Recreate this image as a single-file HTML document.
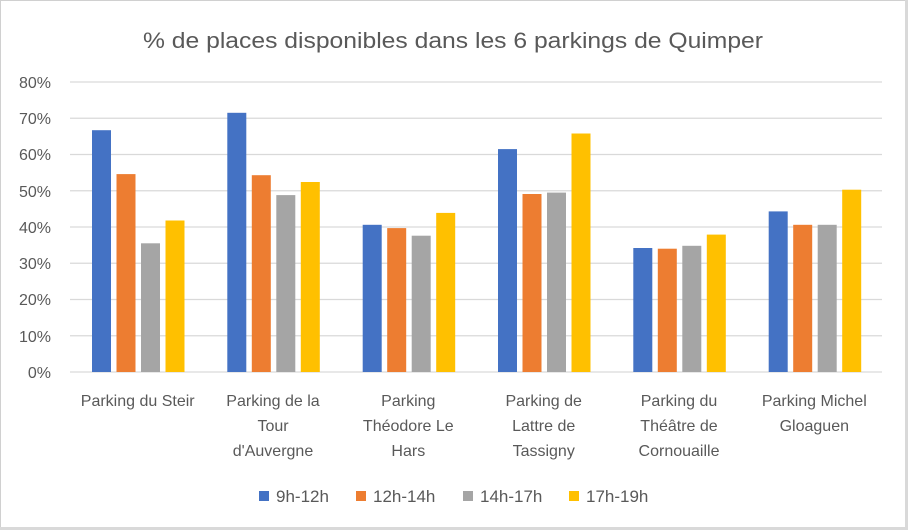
<!DOCTYPE html>
<html><head><meta charset="utf-8"><style>
html,body{margin:0;padding:0;background:#fff}
svg{display:block}
text{font-family:"Liberation Sans",sans-serif;fill:#595959}
</style></head><body>
<svg width="908" height="530" viewBox="0 0 908 530" xmlns="http://www.w3.org/2000/svg">
<rect x="0.5" y="0.5" width="906" height="527" fill="#fff" stroke="#d0d0d0" stroke-width="1"/>
<rect x="0" y="527" width="908" height="3" fill="#d9d9d9"/>
<rect x="905" y="0" width="3" height="530" fill="#d9d9d9"/>
<text x="453" y="48" font-size="22" text-anchor="middle" textLength="620" lengthAdjust="spacingAndGlyphs">% de places disponibles dans les 6 parkings de Quimper</text>
<g stroke="#d9d9d9" stroke-width="1.3">
<line x1="70" x2="882" y1="82" y2="82"/><line x1="70" x2="882" y1="118.25" y2="118.25"/>
<line x1="70" x2="882" y1="154.5" y2="154.5"/><line x1="70" x2="882" y1="190.75" y2="190.75"/>
<line x1="70" x2="882" y1="227" y2="227"/><line x1="70" x2="882" y1="263.25" y2="263.25"/>
<line x1="70" x2="882" y1="299.5" y2="299.5"/><line x1="70" x2="882" y1="335.75" y2="335.75"/>
<line x1="70" x2="882" y1="372" y2="372"/>
</g>
<g font-size="16" text-anchor="end">
<text x="51" y="88">80%</text><text x="51" y="124">70%</text><text x="51" y="160">60%</text>
<text x="51" y="197">50%</text><text x="51" y="233">40%</text><text x="51" y="269">30%</text>
<text x="51" y="305">20%</text><text x="51" y="342">10%</text><text x="51" y="378">0%</text>
</g>
<g>
<rect x="92" y="130.2" width="19" height="241.8" fill="#4472c4"/>
<rect x="116.5" y="174.1" width="19" height="197.9" fill="#ed7d31"/>
<rect x="141" y="243.3" width="19" height="128.7" fill="#a5a5a5"/>
<rect x="165.5" y="220.5" width="19" height="151.5" fill="#ffc000"/>
<rect x="227.3" y="112.8" width="19" height="259.2" fill="#4472c4"/>
<rect x="251.8" y="175.2" width="19" height="196.8" fill="#ed7d31"/>
<rect x="276.3" y="195.1" width="19" height="176.9" fill="#a5a5a5"/>
<rect x="300.8" y="182" width="19" height="190" fill="#ffc000"/>
<rect x="362.7" y="224.8" width="19" height="147.2" fill="#4472c4"/>
<rect x="387.2" y="228.1" width="19" height="143.9" fill="#ed7d31"/>
<rect x="411.7" y="235.7" width="19" height="136.3" fill="#a5a5a5"/>
<rect x="436.2" y="212.9" width="19" height="159.1" fill="#ffc000"/>
<rect x="498" y="149.1" width="19" height="222.9" fill="#4472c4"/>
<rect x="522.5" y="194" width="19" height="178" fill="#ed7d31"/>
<rect x="547" y="192.6" width="19" height="179.4" fill="#a5a5a5"/>
<rect x="571.5" y="133.5" width="19" height="238.5" fill="#ffc000"/>
<rect x="633.3" y="248" width="19" height="124" fill="#4472c4"/>
<rect x="657.8" y="248.7" width="19" height="123.3" fill="#ed7d31"/>
<rect x="682.3" y="245.8" width="19" height="126.2" fill="#a5a5a5"/>
<rect x="706.8" y="234.6" width="19" height="137.4" fill="#ffc000"/>
<rect x="768.7" y="211.4" width="19" height="160.6" fill="#4472c4"/>
<rect x="793.2" y="224.8" width="19" height="147.2" fill="#ed7d31"/>
<rect x="817.7" y="224.8" width="19" height="147.2" fill="#a5a5a5"/>
<rect x="842.2" y="189.7" width="19" height="182.3" fill="#ffc000"/>
</g>
<g font-size="16" text-anchor="middle">
<text x="137.7" y="406">Parking du Steir</text>
<text x="273" y="406">Parking de la</text><text x="273" y="431">Tour</text><text x="273" y="456">d'Auvergne</text>
<text x="408.3" y="406">Parking</text><text x="408.3" y="431">Théodore Le</text><text x="408.3" y="456">Hars</text>
<text x="543.7" y="406">Parking de</text><text x="543.7" y="431">Lattre de</text><text x="543.7" y="456">Tassigny</text>
<text x="679" y="406">Parking du</text><text x="679" y="431">Théâtre de</text><text x="679" y="456">Cornouaille</text>
<text x="814.3" y="406">Parking Michel</text><text x="814.3" y="431">Gloaguen</text>
</g>
<g font-size="17">
<rect x="259" y="491" width="10" height="10" fill="#4472c4"/><text x="276" y="502">9h-12h</text>
<rect x="356" y="491" width="10" height="10" fill="#ed7d31"/><text x="373" y="502">12h-14h</text>
<rect x="463" y="491" width="10" height="10" fill="#a5a5a5"/><text x="480" y="502">14h-17h</text>
<rect x="569" y="491" width="10" height="10" fill="#ffc000"/><text x="586" y="502">17h-19h</text>
</g>
</svg>
</body></html>
